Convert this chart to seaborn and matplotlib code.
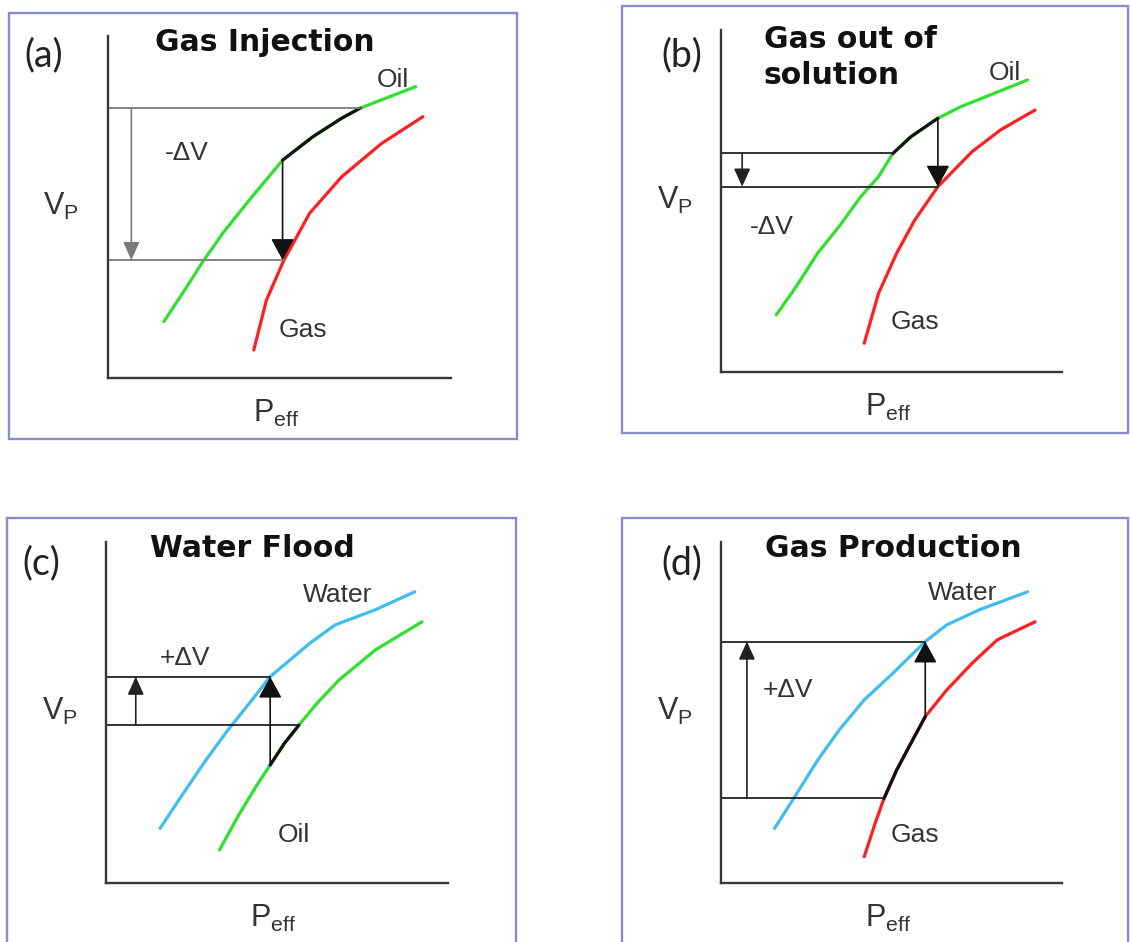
import matplotlib
matplotlib.use("Agg")
import matplotlib.pyplot as plt
import seaborn as sns
from matplotlib.patches import Rectangle

sns.set_theme(style="white")
plt.rcParams['font.family'] = ['DejaVu Sans']

# ---------------- data (P_eff, V_P in relative units 0..10) ----------------
# (a) Gas Injection
a_oil_p = [1.63, 2.30, 2.73, 3.35, 4.20, 5.09, 5.98, 6.82, 7.35, 8.97]
a_oil_v = [1.65, 2.67, 3.35, 4.24, 5.30, 6.37, 7.06, 7.60, 7.89, 8.52]
a_gas_p = [4.25, 4.62, 5.13, 5.88, 6.82, 7.98, 9.18]
a_gas_v = [0.82, 2.28, 3.45, 4.82, 5.89, 6.86, 7.64]

# (b) Gas out of solution
b_oil_p = [1.62, 2.20, 2.83, 3.46, 4.10, 4.62, 5.04, 5.57, 6.36, 7.04, 8.99]
b_oil_v = [1.67, 2.49, 3.47, 4.25, 5.13, 5.71, 6.39, 6.88, 7.42, 7.76, 8.54]
b_gas_p = [4.20, 4.62, 5.15, 5.68, 6.36, 7.36, 8.20, 9.21]
b_gas_v = [0.84, 2.30, 3.47, 4.44, 5.42, 6.44, 7.08, 7.66]

# (c) Water Flood
c_water_p = [1.58, 2.16, 2.89, 3.53, 4.27, 4.80, 5.32, 5.96, 6.70, 7.87, 9.03]
c_water_v = [1.60, 2.48, 3.56, 4.44, 5.37, 6.05, 6.49, 7.03, 7.57, 8.01, 8.54]
c_oil_p = [3.32, 3.85, 4.38, 4.80, 5.22, 5.64, 6.17, 6.81, 7.87, 9.24]
c_oil_v = [0.97, 1.94, 2.82, 3.46, 4.10, 4.63, 5.27, 5.95, 6.83, 7.66]

# (d) Gas Production
d_water_p = [1.57, 2.10, 2.84, 3.47, 4.20, 5.04, 5.99, 6.62, 7.57, 8.99]
d_water_v = [1.60, 2.43, 3.61, 4.49, 5.37, 6.15, 7.08, 7.57, 8.01, 8.54]
d_gas_p = [4.20, 4.52, 4.78, 5.15, 5.57, 5.99, 6.62, 7.36, 8.10, 9.21]
d_gas_v = [0.77, 1.75, 2.48, 3.31, 4.10, 4.88, 5.66, 6.44, 7.13, 7.66]

panel_tags = ["(a)", "(b)", "(c)", "(d)"]
panel_titles = ["Gas Injection", "Gas out of\nsolution", "Water Flood", "Gas Production"]
delta_labels = ["-\u0394V", "-\u0394V", "+\u0394V", "+\u0394V"]

# ---------------- layout ----------------
W, H = 1130, 942
fig = plt.figure(figsize=(W / 100, H / 100), dpi=100)

GREEN = "#2fe02f"
RED = "#ff1f1f"
BLUE = "#3fbdf0"
FRAME = "#8a8ad0"
LBL = "#333333"

panels = [
    dict(box=(9, 13, 517, 439), ax=(108, 36, 451, 378),
         c1=(a_oil_p, a_oil_v, GREEN, "Oil"), c2=(a_gas_p, a_gas_v, RED, "Gas"),
         hl=(0, 5.09, 7.35), top=(7.89, 7.35), bot=(3.45, 5.13),
         larrow=(0.68, 7.89, 3.45), rarrow=(5.09, 6.37, 3.45), lc="#7a7a7a",
         tag=(-1.87, 9.44), title=(4.56, 9.80, "center"),
         l1=(8.31, 8.71), l2=(5.69, 1.40), dv=(2.29, 6.58)),
    dict(box=(622, 6, 1128, 433), ax=(721, 30, 1062, 372),
         c1=(b_oil_p, b_oil_v, GREEN, "Oil"), c2=(b_gas_p, b_gas_v, RED, "Gas"),
         hl=(0, 5.04, 6.36), top=(6.39, 5.04), bot=(5.42, 6.36),
         larrow=(0.62, 6.39, 5.42), rarrow=(6.36, 7.42, 5.42), lc="#222222",
         tag=(-1.14, 9.27), title=(1.26, 9.20, "left"),
         l1=(8.33, 8.74), l2=(5.70, 1.46), dv=(1.50, 4.24)),
    dict(box=(7, 518, 516, 960), ax=(106, 542, 448, 883),
         c1=(c_water_p, c_water_v, BLUE, "Water"), c2=(c_oil_p, c_oil_v, GREEN, "Oil"),
         hl=(1, 4.80, 5.64), top=(6.05, 4.80), bot=(4.63, 5.64),
         larrow=(0.87, 4.63, 6.05), rarrow=(4.80, 3.46, 6.05), lc="#222222",
         tag=(-1.89, 9.38), title=(4.27, 9.82, "center"),
         l1=(6.78, 8.45), l2=(5.48, 1.41), dv=(2.31, 6.60)),
    dict(box=(622, 518, 1128, 960), ax=(721, 542, 1062, 883),
         c1=(d_water_p, d_water_v, BLUE, "Water"), c2=(d_gas_p, d_gas_v, RED, "Gas"),
         hl=(1, 4.78, 5.99), top=(7.08, 5.99), bot=(2.48, 4.78),
         larrow=(0.76, 2.48, 7.08), rarrow=(5.99, 4.88, 7.08), lc="#222222",
         tag=(-1.14, 9.38), title=(5.04, 9.82, "center"),
         l1=(7.07, 8.50), l2=(5.70, 1.41), dv=(1.96, 5.66)),
]


def arrow(ax, p, v0, v1, color, big):
    hw, hl = (0.36, 0.66) if big else (0.25, 0.55)
    ax.annotate("", xy=(p, v1), xytext=(p, v0),
                arrowprops=dict(arrowstyle=f"-|>,head_length={hl},head_width={hw}",
                                color=color, lw=1.2, shrinkA=0, shrinkB=0,
                                mutation_scale=20),
                annotation_clip=False)


for i, pn in enumerate(panels):
    bx0, by0, bx1, by1 = pn["box"]
    fig.add_artist(Rectangle((bx0 / W, 1 - by1 / H), (bx1 - bx0) / W, (by1 - by0) / H,
                             transform=fig.transFigure, fill=False, ec=FRAME, lw=1.7))
    x0, y0, x1, y1 = pn["ax"]
    ax = fig.add_axes([x0 / W, 1 - y1 / H, (x1 - x0) / W, (y1 - y0) / H])
    ax.set_xlim(0, 10)
    ax.set_ylim(0, 10)
    ax.set_xticks([])
    ax.set_yticks([])
    ax.patch.set_alpha(0)
    sns.despine(ax=ax)
    for s in ("left", "bottom"):
        ax.spines[s].set_color("#383838")
        ax.spines[s].set_linewidth(1.7)

    curves = [pn["c1"], pn["c2"]]
    for (px, vy, col, name) in curves:
        sns.lineplot(x=px, y=vy, sort=False, color=col, lw=2.3, ax=ax, legend=False)
    # highlighted (black) part of a curve
    ci, pa, pb = pn["hl"]
    px, vy = curves[ci][0], curves[ci][1]
    seg = [(p, v) for p, v in zip(px, vy) if pa - 1e-6 <= p <= pb + 1e-6]
    sns.lineplot(x=[s[0] for s in seg], y=[s[1] for s in seg], sort=False,
                 color="#111111", lw=2.3, ax=ax, legend=False)

    lc = pn["lc"]
    tv, tp = pn["top"]
    bv, bp = pn["bot"]
    ax.plot([0, tp], [tv, tv], color=lc, lw=1.3, clip_on=False)
    ax.plot([0, bp], [bv, bv], color=lc, lw=1.3, clip_on=False)
    arrow(ax, *pn["larrow"], color=lc, big=False)
    arrow(ax, *pn["rarrow"], color="#111111", big=True)

    # texts
    ax.text(*pn["tag"], panel_tags[i], fontsize=27, family="Lato", color="#222222",
            ha="center", va="center", clip_on=False)
    tx, ty, tha = pn["title"]
    ax.text(tx, ty, panel_titles[i], fontsize=21.5, fontweight="bold", color="#111111",
            ha=tha, va="center", linespacing=1.3, clip_on=False)
    ax.text(*pn["l1"], curves[0][3], fontsize=19, family="Liberation Sans", color=LBL,
            ha="center", va="center")
    ax.text(*pn["l2"], curves[1][3], fontsize=19, family="Liberation Sans", color=LBL,
            ha="center", va="center")
    ax.text(*pn["dv"], delta_labels[i], fontsize=19, family="Liberation Sans", color=LBL,
            ha="center", va="center")
    ax.text(-1.36, 5.03, r"$\mathregular{V_P}$", fontsize=22, family="Liberation Sans",
            color=LBL, ha="center", va="center", clip_on=False)
    ax.text(4.9, -1.03, r"$\mathregular{P_{eff}}$", fontsize=22, family="Liberation Sans",
            color=LBL, ha="center", va="center", clip_on=False)

fig.savefig("out.png", dpi=100, facecolor="white")
